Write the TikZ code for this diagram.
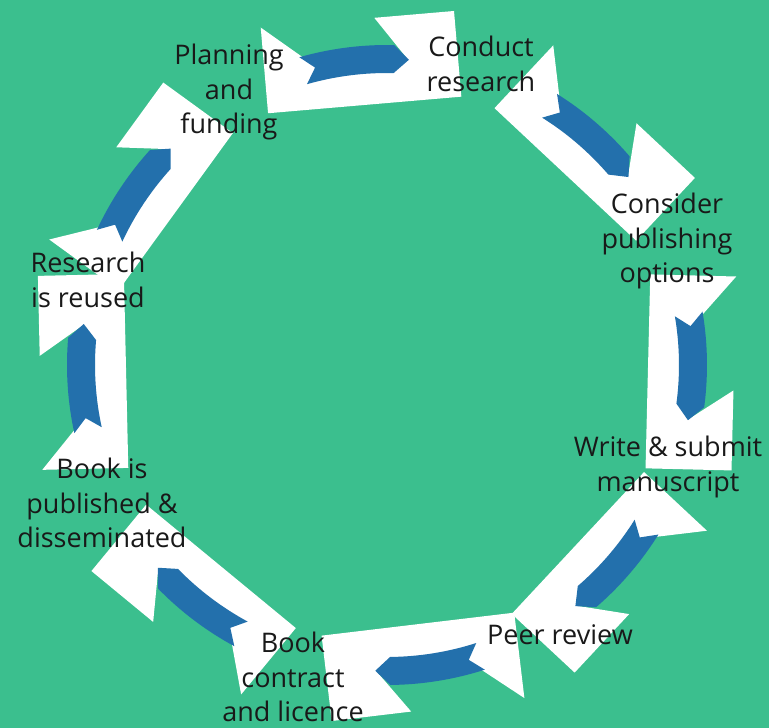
\documentclass[tikz,border=0pt]{standalone}
\usepackage{fontspec}
\setmainfont{Open Sans}
\usepackage{xcolor}
\usepackage{tikz}

\definecolor{bggreen}{RGB}{59,191,142}
\definecolor{arrowblue}{RGB}{35,112,172}
\tikzstyle{stagetext} = [align=center, text=black!90, inner sep=0pt, font=\fontsize{27}{34.5}\selectfont]
\tikzstyle{backblock} = [fill=white]
\tikzstyle{bluearc} = [fill=arrowblue]

% one white block with its curved blue arrow, #1 = angle on the circle
\newcommand{\cyclearrow}[1]{%
  \begin{scope}[shift={(#1:304)}, rotate=#1-90]
    \path[backblock] (-97,43) -- (-46,0) -- (46,0) -- (17,43) -- (97,43) -- (97,-43) -- (-97,-43) -- cycle;
  \end{scope}
  \path[bluearc] ({#1+11}:320) arc[start angle=#1+11, end angle=#1-6.2, radius=320pt]
    -- ({#1-9}:306) -- ({#1-6.2}:292) arc[start angle=#1-6.2, end angle=#1+11, radius=292pt]
    -- ({#1+8.7}:306) -- cycle;
}

\begin{document}
\begin{tikzpicture}[x=1pt, y=1pt]
	\fill[bggreen] (-387,-363) rectangle (382,365);

	\cyclearrow{94.9}
	\cyclearrow{46.9}
	\cyclearrow{-1.4}
	\cyclearrow{-43}
	\cyclearrow{-83.2}
	\cyclearrow{-129.5}
	\cyclearrow{181.3}
	\cyclearrow{144}

	\node (conduct) [stagetext] at (94,301) {Conduct\\research};
	\node (consider) [stagetext] at (280,124) {Consider\\publishing\\options};
	\node (write) [stagetext] at (281,-102) {Write \& submit\\manuscript};
	\node (review) [stagetext] at (173,-270) {Peer review};
	\node (contract) [stagetext] at (-94,-312) {Book\\contract\\and licence};
	\node (publish) [stagetext] at (-285,-138) {Book is\\published \&\\disseminated};
	\node (reuse) [stagetext] at (-299,85) {Research\\is reused};
	\node (plan) [stagetext] at (-158,273) {Planning\\and\\funding};
\end{tikzpicture}
\end{document}
